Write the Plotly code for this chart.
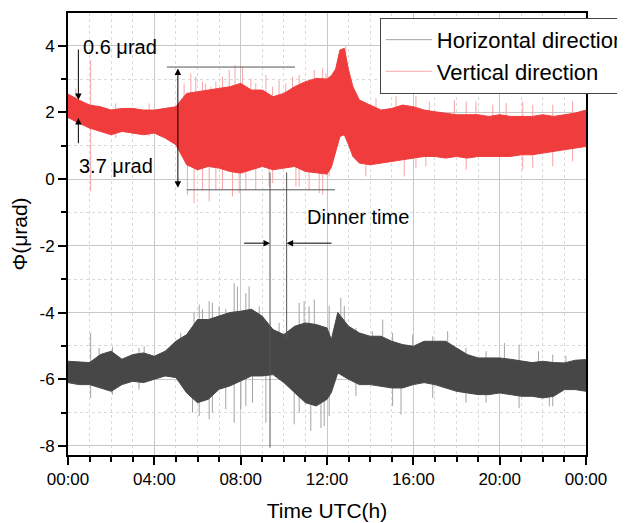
import plotly.graph_objects as go

# ---------------- data ----------------
# Vertical direction (red): dense band envelope, hours / μrad
v_t  = [0.0, 0.5, 1.0, 1.5, 2.0, 2.5, 3.0, 3.5, 4.0, 4.5, 5.0, 5.3, 5.5, 6.0, 6.5, 7.0, 7.5, 8.0, 8.5,
        9.0, 9.5, 10.0, 10.5, 11.0, 11.5, 12.0, 12.2, 12.4, 12.6, 12.8, 13.0, 13.2, 13.5, 14.0, 14.5,
        15.0, 15.5, 16.0, 16.5, 17.0, 17.5, 18.0, 18.5, 19.0, 19.5, 20.0, 20.5, 21.0, 21.5, 22.0, 22.5,
        23.0, 23.5, 24.0]
v_hi = [2.55, 2.37, 2.22, 2.17, 2.07, 2.12, 2.12, 2.07, 2.07, 2.12, 2.17, 2.42, 2.57, 2.62, 2.67, 2.72,
        2.77, 2.87, 2.67, 2.67, 2.47, 2.57, 2.77, 2.92, 3.02, 3.0, 3.1, 3.3, 3.87, 3.92, 3.27, 2.77, 2.37,
        2.22, 2.07, 2.12, 2.22, 2.17, 2.07, 2.02, 1.98, 1.93, 1.93, 1.93, 1.88, 1.93, 1.88, 1.88, 1.88,
        1.93, 1.88, 1.93, 1.98, 2.07]
v_lo = [1.85, 1.68, 1.53, 1.43, 1.33, 1.43, 1.38, 1.33, 1.38, 1.23, 1.03, 0.68, 0.43, 0.28, 0.38, 0.33,
        0.23, 0.18, 0.28, 0.38, 0.28, 0.33, 0.38, 0.23, 0.18, 0.15, 0.35, 0.8, 1.28, 1.33, 1.03, 0.68,
        0.48, 0.43, 0.48, 0.53, 0.58, 0.63, 0.68, 0.68, 0.63, 0.68, 0.63, 0.68, 0.68, 0.68, 0.68, 0.73,
        0.73, 0.78, 0.83, 0.88, 0.93, 0.98]
# Vertical direction spikes: time, low end, high end
v_spk_t  = [0.36, 1.05, 2.21, 3.76, 5.38, 5.53, 5.69, 5.84, 5.92, 6.23, 6.38, 6.54, 6.62, 6.85, 7.16,
            7.47, 7.62, 7.74, 7.93, 8.09, 8.24, 8.47, 8.7, 9.17, 9.32, 9.48, 9.78, 10.09, 10.4, 10.56,
            10.71, 11.17, 11.41, 11.64, 11.8, 11.95, 12.1, 12.87, 13.8, 14.27, 15.2, 15.58, 16.12,
            16.58, 16.74, 17.9, 18.45, 18.9, 19.68, 20.3, 21.07, 21.53, 22.46, 23.38]
v_spk_lo = [1.9, -0.37, 1.23, 1.28, 1.0, -0.47, 0.8, -0.72, 1.0, -0.32, 1.0, -0.67, 1.0, -0.32, -0.32,
            1.0, -0.52, 1.0, -0.42, 1.0, -0.32, 1.0, -0.32, 1.0, -0.22, -0.12, 1.0, 1.0, 1.0, -0.22,
            -0.22, -0.32, 1.0, -0.42, -0.47, 1.0, 0.08, 2.0, 0.08, 1.0, 1.0, 0.08, 0.33, 0.38, 1.0, 1.0,
            0.28, 1.0, 1.0, 1.0, 0.28, 0.33, 0.38, 0.53]
v_spk_hi = [2.72, 3.57, 2.27, 2.27, 2.87, 1.5, 3.17, 1.5, 3.07, 2.92, 2.87, 1.5, 2.77, 2.92, 3.07,
            3.27, 1.5, 3.42, 1.5, 3.37, 1.5, 3.02, 2.87, 3.12, 1.5, 2.77, 2.97, 2.87, 3.07, 1.5, 3.12,
            1.5, 3.27, 1.5, 3.32, 3.17, 1.5, 4.02, 1.5, 2.43, 2.48, 1.5, 2.48, 1.5, 2.33, 2.38, 2.33,
            2.33, 2.23, 2.28, 2.33, 2.23, 2.23, 2.33]

# Horizontal direction (dark grey): dense band envelope
h_t  = [0.0, 0.5, 1.0, 1.5, 2.0, 2.5, 3.0, 3.5, 4.0, 4.5, 5.0, 5.5, 6.0, 6.5, 7.0, 7.5, 8.0, 8.5, 9.0,
        9.5, 10.0, 10.5, 11.0, 11.5, 12.0, 12.2, 12.5, 13.0, 13.5, 14.0, 14.5, 15.0, 15.5, 16.0, 16.5,
        17.0, 17.5, 18.0, 18.5, 19.0, 19.5, 20.0, 20.5, 21.0, 21.5, 22.0, 22.5, 23.0, 23.5, 24.0]
h_hi = [-5.46, -5.49, -5.5, -5.26, -5.16, -5.4, -5.26, -5.21, -5.31, -5.16, -4.86, -4.66, -4.21, -4.21,
        -4.11, -4.0, -3.96, -3.9, -4.11, -4.51, -4.66, -4.41, -4.31, -4.36, -4.46, -4.81, -4.0, -4.41,
        -4.61, -4.71, -4.71, -4.86, -4.96, -5.01, -4.86, -4.86, -4.86, -5.06, -5.26, -5.36, -5.36, -5.36,
        -5.4, -5.46, -5.5, -5.46, -5.5, -5.51, -5.43, -5.41]
h_lo = [-6.1, -6.16, -6.16, -6.26, -6.36, -6.16, -6.06, -6.1, -6.0, -5.9, -5.95, -6.41, -6.7, -6.6, -6.3,
        -6.2, -6.06, -5.9, -5.9, -5.86, -6.1, -6.4, -6.7, -6.8, -6.6, -6.4, -5.81, -6.0, -6.16, -6.16,
        -6.21, -6.26, -6.26, -6.16, -6.1, -6.16, -6.26, -6.36, -6.41, -6.46, -6.46, -6.41, -6.46, -6.51,
        -6.51, -6.56, -6.51, -6.31, -6.31, -6.36]
# Horizontal direction spikes: time, low end, high end
h_spk_t  = [1.05, 1.44, 2.06, 3.29, 3.53, 5.22, 5.77, 5.84, 6.08, 6.23, 6.54, 6.69, 7.0, 7.31, 7.7, 7.85,
            8.01, 8.24, 8.39, 8.55, 8.86, 9.17, 9.78, 10.48, 10.71, 10.94, 11.17, 11.25, 11.41, 11.72,
            11.87, 12.1, 12.64, 12.8, 13.34, 14.1, 14.58, 15.04, 15.43, 15.97, 16.9, 17.59, 18.44,
            19.37, 20.22, 20.9, 21.8, 22.3, 22.46, 23.07]
h_spk_lo = [-6.56, -5.8, -6.46, -6.31, -5.8, -5.6, -7.0, -5.5, -7.1, -5.5, -7.2, -7.0, -5.2, -6.9, -7.3,
            -5.0, -6.9, -6.8, -5.0, -6.7, -5.0, -7.3, -5.5, -7.35, -7.0, -5.5, -6.0, -7.55, -5.5, -7.46,
            -7.4, -7.1, -5.0, -5.0, -6.5, -5.5, -5.5, -6.8, -7.06, -5.5, -6.56, -5.6, -6.7, -6.7, -5.8,
            -6.86, -5.9, -6.81, -6.81, -5.9]
h_spk_hi = [-4.61, -5.06, -5.02, -5.06, -5.01, -4.61, -5.0, -4.01, -3.76, -3.9, -3.66, -3.7, -3.81,
            -3.9, -3.12, -3.22, -5.0, -3.42, -3.22, -5.0, -3.81, -5.0, -4.31, -5.0, -3.71, -3.66, -3.81,
            -5.0, -3.61, -5.0, -5.0, -3.8, -3.56, -3.8, -4.46, -4.56, -4.21, -4.61, -5.5, -4.66, -4.71,
            -4.56, -5.06, -5.16, -4.91, -4.96, -5.16, -6.0, -5.26, -5.3]

x_tickvals = [0, 4, 8, 12, 16, 20, 24]
x_ticktext = ["00:00", "04:00", "08:00", "12:00", "16:00", "20:00", "00:00"]
y_tickvals = [-8, -6, -4, -2, 0, 2, 4]
y_ticktext = ["-8", "-6", "-4", "-2", "0", "2", "4"]

RED = "#F03C3C"
RED_LIGHT = "#F7A5A5"
GREY = "#474747"
GREY_LIGHT = "#A3A3A3"
FONT = "Liberation Sans, Arial, sans-serif"


def spikes(t, lo, hi):
    xs, ys = [], []
    for a, b, c in zip(t, lo, hi):
        xs += [a, a, None]
        ys += [b, c, None]
    return xs, ys


fig = go.Figure()

# spikes first (underneath the dense bands); they also serve as legend entries
sx, sy = spikes(h_spk_t, h_spk_lo, h_spk_hi)
fig.add_trace(go.Scatter(x=sx, y=sy, mode="lines", line=dict(color=GREY_LIGHT, width=1),
                         name="Horizontal direction", legendrank=1, hoverinfo="skip"))
sx, sy = spikes(v_spk_t, v_spk_lo, v_spk_hi)
fig.add_trace(go.Scatter(x=sx, y=sy, mode="lines", line=dict(color=RED_LIGHT, width=1),
                         name="Vertical direction", legendrank=2, hoverinfo="skip"))

# dense bands
fig.add_trace(go.Scatter(x=h_t + h_t[::-1], y=h_hi + h_lo[::-1], fill="toself", fillcolor=GREY,
                         mode="lines", line=dict(color=GREY, width=1), showlegend=False, hoverinfo="skip"))
fig.add_trace(go.Scatter(x=v_t + v_t[::-1], y=v_hi + v_lo[::-1], fill="toself", fillcolor=RED,
                         mode="lines", line=dict(color=RED, width=1), showlegend=False, hoverinfo="skip"))

# annotation guide lines
line_col = "#555555"
shapes = [
    dict(type="line", x0=4.58, x1=10.52, y0=3.36, y1=3.36, line=dict(color=line_col, width=1)),
    dict(type="line", x0=5.5, x1=12.37, y0=-0.32, y1=-0.32, line=dict(color=line_col, width=1)),
    dict(type="line", x0=9.36, x1=9.36, y0=0.2, y1=-8.05, line=dict(color=line_col, width=1)),
    dict(type="line", x0=10.13, x1=10.13, y0=0.2, y1=-4.8, line=dict(color=line_col, width=1)),
]
for s in shapes:
    s.update(xref="x", yref="y")

arrow_common = dict(xref="x", yref="y", axref="x", ayref="y", text="", showarrow=True,
                    arrowhead=2, arrowsize=1.3, arrowwidth=1, arrowcolor="black")
annotations = [
    dict(x=0.48, y=2.37, ax=0.48, ay=3.93, **arrow_common),
    dict(x=0.48, y=1.83, ax=0.48, ay=1.03, **arrow_common),
    dict(x=5.09, y=-0.26, ax=5.09, ay=3.36, arrowside="end+start", **arrow_common),
    dict(x=9.36, y=-1.92, ax=8.09, ay=-1.92, **arrow_common),
    dict(x=10.13, y=-1.92, ax=12.28, ay=-1.92, **arrow_common),
    dict(x=0.62, y=3.97, xref="x", yref="y", text="0.6 μrad", showarrow=False, xanchor="left",
         yanchor="middle", font=dict(family=FONT, size=20, color="black")),
    dict(x=0.42, y=0.38, xref="x", yref="y", text="3.7 μrad", showarrow=False, xanchor="left",
         yanchor="middle", font=dict(family=FONT, size=20, color="black")),
    dict(x=11.0, y=-1.14, xref="x", yref="y", text="Dinner time", showarrow=False, xanchor="left",
         yanchor="middle", font=dict(family=FONT, size=20, color="black")),
]

# The page body adds an 8px offset; the figure is sized so it ends at the window edge.
fig.update_layout(
    width=617, height=515,
    margin=dict(l=60, r=39, t=5, b=68, autoexpand=False),
    paper_bgcolor="white", plot_bgcolor="white",
    font=dict(family=FONT, size=17, color="black"),
    shapes=shapes, annotations=annotations,
    legend=dict(x=0.602, y=0.989, xanchor="left", yanchor="top", bgcolor="white",
                bordercolor="#444444", borderwidth=1, font=dict(size=22, family=FONT),
                tracegroupgap=0, itemwidth=46),
    showlegend=True,
)
fig.update_xaxes(
    range=[0, 24], tickvals=x_tickvals, ticktext=x_ticktext, automargin=False,
    showline=True, linecolor="black", linewidth=2, mirror=True,
    ticks="outside", ticklen=8, tickwidth=1.5, tickcolor="black",
    showgrid=True, gridcolor="#C8C8C8", gridwidth=1, zeroline=False,
    minor=dict(dtick=1, tick0=0, ticks="outside", ticklen=5, tickcolor="black",
               showgrid=True, gridcolor="#DADADA", griddash="dot", gridwidth=1),
    title=dict(text="Time UTC(h)", font=dict(size=21, family=FONT), standoff=15),
)
fig.update_yaxes(
    range=[-8.27, 4.98], tickvals=y_tickvals, ticktext=y_ticktext, automargin=False,
    showline=True, linecolor="black", linewidth=2, mirror=True,
    ticks="outside", ticklen=8, tickwidth=1.5, tickcolor="black",
    showgrid=True, gridcolor="#C8C8C8", gridwidth=1, zeroline=False,
    minor=dict(dtick=1, tick0=0, ticks="outside", ticklen=5, tickcolor="black",
               showgrid=True, gridcolor="#DADADA", griddash="dot", gridwidth=1),
    title=dict(text="Φ(μrad)", font=dict(size=21, family=FONT), standoff=8),
)

fig.write_html("out.html")
